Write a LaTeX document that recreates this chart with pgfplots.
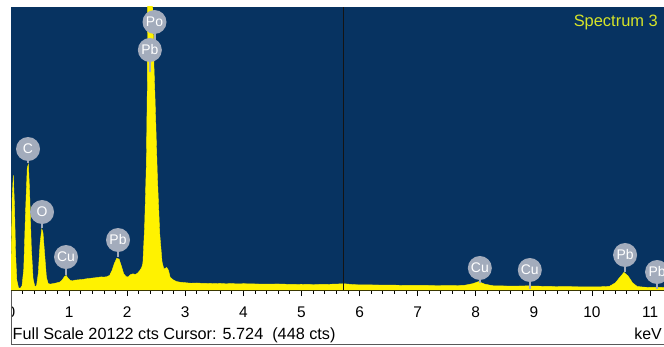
\documentclass[border=0pt]{standalone}
\usepackage{fontspec}
\setmainfont{Liberation Sans}
\usepackage{pgfplots}
\usepackage{pgfplotstable}
\pgfplotsset{compat=1.18}
\definecolor{navy}{RGB}{7,51,97}
\definecolor{badgec}{RGB}{163,172,188}
\definecolor{specyellow}{RGB}{214,228,40}
\definecolor{cursorc}{RGB}{20,20,20}

\pgfplotstableread{
kev cts
0.00 1500
0.02 6500
0.04 8150
0.06 6000
0.08 2500
0.10 700
0.13 150
0.16 120
0.19 300
0.22 1500
0.25 5500
0.28 8700
0.30 8950
0.32 7000
0.35 3000
0.38 800
0.41 250
0.44 300
0.47 1200
0.50 3300
0.53 4350
0.55 4100
0.58 2500
0.61 900
0.64 450
0.68 420
0.72 450
0.76 480
0.80 520
0.84 560
0.88 700
0.92 950
0.95 1030
0.98 850
1.02 680
1.06 650
1.10 700
1.15 720
1.20 740
1.25 760
1.30 800
1.35 820
1.40 850
1.45 870
1.50 900
1.55 930
1.60 920
1.65 940
1.70 1050
1.74 1400
1.78 1900
1.82 2250
1.86 2200
1.90 1700
1.94 1150
1.98 950
2.02 930
2.06 1100
2.10 1150
2.14 1100
2.18 1200
2.22 1400
2.25 1600
2.27 1900
2.30 4500
2.33 9000
2.345 14000
2.355 22000
2.38 30000
2.41 30000
2.44 20000
2.46 16000
2.48 13500
2.52 8000
2.56 4000
2.60 2000
2.63 1500
2.66 1550
2.68 1600
2.71 1400
2.74 900
2.80 700
2.85 600
2.90 560
3.00 520
3.10 480
3.20 500
3.30 470
3.40 480
3.50 450
3.60 470
3.70 440
3.80 460
3.90 430
4.00 450
4.20 430
4.40 420
4.60 430
4.80 400
5.00 410
5.20 390
5.40 400
5.60 420
5.724 448
5.90 380
6.00 370
6.20 360
6.50 350
6.80 330
7.00 330
7.30 320
7.60 310
7.80 330
7.95 450
8.05 600
8.15 420
8.30 300
8.60 280
8.90 290
9.20 260
9.50 240
9.80 230
10.10 220
10.30 260
10.40 500
10.48 900
10.55 1250
10.62 1000
10.70 500
10.78 250
10.90 200
11.00 190
11.24 180
}\spectrum

\begin{document}
\begin{tikzpicture}[x=1bp,y=1bp]
\useasboundingbox (0,0) rectangle (664,346);
\begin{axis}[
  at={(11bp,56bp)}, anchor=south west,
  scale only axis, width=653bp, height=283bp,
  xmin=0, xmax=11.24, ymin=0, ymax=20122,
  axis background/.style={fill=navy},
  axis x line=bottom, axis y line=none,
  axis line style={black, line width=1bp, -},
  ytick=\empty,
  xtick={0,...,11}, minor x tick num=4,
  tick align=outside, major tick length=6bp, minor tick length=3.5bp,
  every tick/.style={black, line width=0.9bp},
  /pgf/number format/assume math mode=true,
  xticklabel style={font=\fontsize{15.5}{15.5}\selectfont, anchor=base, yshift=-21bp},
  clip=true,
]
\addplot[fill=yellow, draw=yellow, line width=0.4bp] table[x=kev, y=cts] {\spectrum} \closedcycle;
\draw[cursorc, line width=1bp] (axis cs:5.724,0) -- (axis cs:5.724,20122);
\tikzset{bdg/.style={circle, fill=badgec, inner sep=0pt, minimum size=24bp, text=white, font=\fontsize{14}{14}\selectfont},
         stem/.style={draw=badgec, line width=2bp}}
% stems
\draw[stem] (axis cs:0.293,10025) -- (axis cs:0.293,9030);
\draw[stem] (axis cs:0.534,5546) -- (axis cs:0.534,4410);
\draw[stem] (axis cs:0.947,2346) -- (axis cs:0.947,1070);
\draw[stem] (axis cs:1.842,3555) -- (axis cs:1.842,2346);
\draw[stem] (axis cs:2.39,17064) -- (axis cs:2.39,15500);
\draw[stem] (axis cs:2.47,19055) -- (axis cs:2.47,17800);
\draw[stem] (axis cs:8.07,1564) -- (axis cs:8.07,500);
\draw[stem] (axis cs:8.93,1422) -- (axis cs:8.93,80);
\draw[stem] (axis cs:10.57,2489) -- (axis cs:10.57,1280);
\draw[stem] (axis cs:11.12,1280) -- (axis cs:11.12,80);
% badges
\node[bdg] at (axis cs:0.293,10025) {C};
\node[bdg] at (axis cs:0.534,5546) {O};
\node[bdg] at (axis cs:0.947,2346) {Cu};
\node[bdg] at (axis cs:1.842,3555) {Pb};
\node[bdg] at (axis cs:2.47,19055) {Po};
\node[bdg] at (axis cs:2.39,17064) {Pb};
\node[bdg] at (axis cs:8.07,1564) {Cu};
\node[bdg] at (axis cs:8.93,1422) {Cu};
\node[bdg] at (axis cs:10.57,2489) {Pb};
\node[bdg] at (axis cs:11.12,1280) {Pb};
\end{axis}
\fill[white] (0,0) rectangle (10.5,55);
\draw[gray!70!black, line width=0.8bp] (11,1.5) -- (11,55.5);
\draw[gray!70!black, line width=0.8bp] (11,1.5) -- (664,1.5);
\node[anchor=base west, inner sep=0pt, font=\fontsize{16.3}{16.3}\selectfont] at (12.5,7) {Full Scale 20122 cts Cursor: 5.724\ \ (448 cts)};
\node[anchor=base east, inner sep=0pt, font=\fontsize{16}{16}\selectfont] at (662,7) {keV};
\node[anchor=base east, inner sep=0pt, text=specyellow, font=\fontsize{16.5}{16.5}\selectfont] at (658,320) {Spectrum 3};
\end{tikzpicture}
\end{document}
